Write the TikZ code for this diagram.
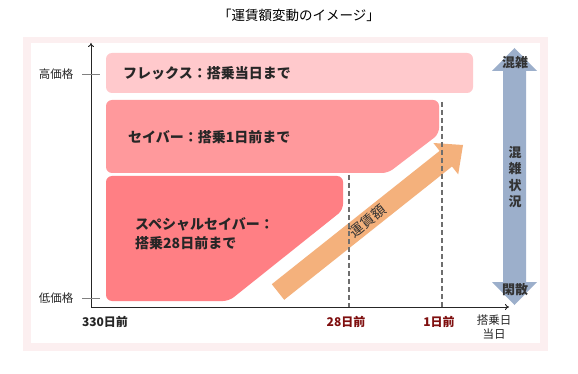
\documentclass[tikz,border=0pt]{standalone}
\usepackage{fontspec}
\usetikzlibrary{arrows.meta}
\setmainfont{Noto Sans CJK JP}
\definecolor{panel}{HTML}{FCEFF0}
\definecolor{flexc}{HTML}{FFC9CC}
\definecolor{saverc}{HTML}{FF999C}
\definecolor{specc}{HTML}{FF7F84}
\definecolor{orangec}{HTML}{F4B17C}
\definecolor{bluec}{HTML}{9CAFCB}
\definecolor{darkred}{HTML}{7F0F0F}
\definecolor{txt}{HTML}{262626}
\definecolor{dashc}{HTML}{6E6E6E}
\tikzset{
  boxlabel/.style={font=\fontsize{14}{17}\selectfont\bfseries, text=txt, anchor=west, inner sep=0pt, align=left},
  small/.style={font=\fontsize{11.5}{13}\selectfont, text=txt, inner sep=0pt},
  daylabel/.style={font=\fontsize{12}{14}\selectfont\bfseries, inner sep=0pt},
  dashline/.style={draw=dashc, line width=2.2pt, dash pattern=on 5pt off 3pt},
  axis/.style={draw=black!85, line width=0.9pt, -{To[length=4pt,width=6pt]}},
  tick/.style={draw=gray, line width=0.6pt},
  bluetext/.style={font=\fontsize{13}{16}\selectfont\bfseries, text=black!80, inner sep=0pt, align=center}
}
\begin{document}
\begin{tikzpicture}[x=1pt,y=-1pt]
\useasboundingbox (0,0) rectangle (578,374);
% panel
\fill[panel] (23,37) rectangle (548,351);
\fill[white] (31,43) rectangle (540,343);
% title
\node[font=\fontsize{13.5}{15}\selectfont, text=black, inner sep=0pt] (title) at (299,15) {「運賃額変動のイメージ」};
% boxes
\fill[flexc, rounded corners=6pt] (106,53) rectangle (473,93);
\node[boxlabel] (flex) at (123,73) {フレックス：搭乗当日まで};
\fill[saverc, rounded corners=6pt] (106,100) -- (439,100) -- (439,134) -- (388,173) -- (106,173) -- cycle;
\node[boxlabel] (saver) at (128,137) {セイバー：搭乗1日前まで};
\fill[specc, rounded corners=6pt] (106,176) -- (343,176) -- (343,210) -- (229,301) -- (106,301) -- cycle;
\node[boxlabel, font=\fontsize{14}{19}\selectfont\bfseries] (spec) at (135,234) {スペシャルセイバー：\\搭乗28日前まで};
% orange arrow
\fill[orangec] (284.2,299.8) -- (452.0,166.5) -- (458.2,174.4) -- (463,145) -- (433.4,143.0) -- (439.6,150.9) -- (271.8,284.2) -- cycle;
\node[font=\fontsize{14}{16}\selectfont, text=black!80, rotate=38.5, inner sep=0pt] (fare) at (368,221) {運賃額};
% dashed lines
\coordinate (d1t) at (349,175);
\coordinate (d1b) at (349,307);
\coordinate (d2t) at (442,102);
\coordinate (d2b) at (442,307);
\draw[dashline] (d1t) -- (d1b);
\draw[dashline] (d2t) -- (d2b);
% axes
\coordinate (origin) at (91,307);
\coordinate (ytop) at (91,43);
\coordinate (xend) at (509,307);
\draw[axis] (origin) -- (ytop);
\draw[axis] (origin) -- (xend);
% ticks
\coordinate (t1a) at (82,74); \coordinate (t1b) at (100,74);
\coordinate (t2a) at (82,298); \coordinate (t2b) at (100,298);
\draw[tick] (t1a) -- (t1b);
\draw[tick] (t2a) -- (t2b);
\node[small] (high) at (56,74) {高価格};
\node[small] (low) at (56,298) {低価格};
% x labels
\node[daylabel, text=txt] (d330) at (105,322) {330日前};
\node[daylabel, text=darkred] (d28) at (346,322) {28日前};
\node[daylabel, text=darkred] (d1) at (439,322) {1日前};
\node[small, align=center, font=\fontsize{11.5}{14}\selectfont] (dday) at (494,327) {搭乗日\\当日};
% blue arrow
\fill[bluec] (503,71) -- (492,71) -- (514.5,48) -- (537,71) -- (526,71) -- (526,282) -- (537,282) -- (514.5,305) -- (492,282) -- (503,282) -- cycle;
\node[bluetext] (busy) at (515,63) {混雑};
\node[bluetext] (quiet) at (515,290) {閑散};
\node[bluetext, font=\fontsize{13}{16.3}\selectfont\bfseries] (status) at (515,177) {混\\雑\\状\\況};
\end{tikzpicture}
\end{document}
